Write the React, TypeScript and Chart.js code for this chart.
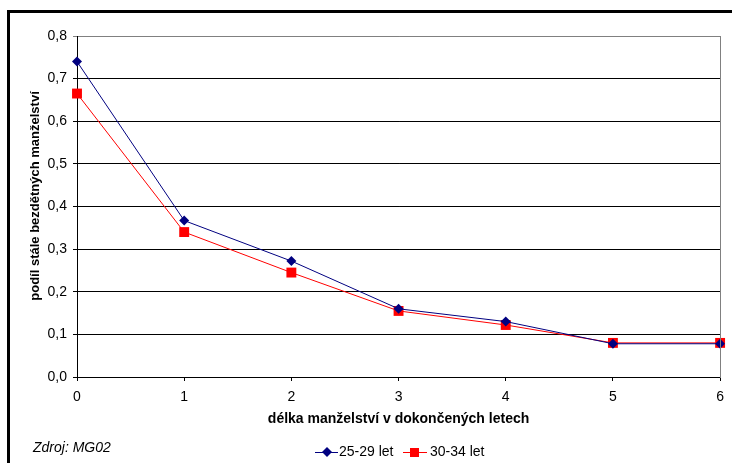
import React, { useEffect, useRef } from "react";
import { Chart, registerables } from "chart.js";

Chart.register(...registerables);

const categories = ["0", "1", "2", "3", "4", "5", "6"];
const series2529 = [0.74, 0.367, 0.272, 0.16, 0.13, 0.078, 0.078];
const series3034 = [0.665, 0.34, 0.245, 0.155, 0.122, 0.08, 0.08];
const seriesNames = ["25-29 let", "30-34 let"];
const yTitle = "podíl stále bezdětných manželství";
const xTitle = "délka manželství v dokončených letech";
const sourceNote = "Zdroj: MG02";

const FONT = "'Liberation Sans', Arial, sans-serif";
const BLUE = "#000080";
const RED = "#FF0000";

const decorPlugin = {
  id: "decor",
  afterDraw(chart: any) {
    const ctx = chart.ctx;
    const area = chart.chartArea;
    ctx.save();
    // right plot border (gray)
    ctx.strokeStyle = "#808080";
    ctx.lineWidth = 1;
    ctx.beginPath();
    const rx = Math.round(area.right) + 0.5;
    ctx.moveTo(rx, Math.round(area.top));
    ctx.lineTo(rx, Math.round(area.bottom) + 1);
    ctx.stroke();

    // outer black frame (cut off at right and bottom)
    ctx.fillStyle = "#000";
    ctx.fillRect(7, 10, 3, 470);
    ctx.fillRect(7, 10, 740, 3);

    // y axis title
    ctx.save();
    ctx.translate(35.5, 196);
    ctx.rotate(-Math.PI / 2);
    ctx.font = `bold 13px ${FONT}`;
    ctx.textAlign = "center";
    ctx.textBaseline = "middle";
    ctx.fillStyle = "#000";
    ctx.fillText(yTitle, 0, 0);
    ctx.restore();

    // source note
    ctx.fillStyle = "#000";
    ctx.font = `italic 14px ${FONT}`;
    ctx.textBaseline = "middle";
    ctx.textAlign = "left";
    ctx.fillText(sourceNote, 33, 448);

    // legend
    const ly = 452;
    ctx.font = `14px ${FONT}`;
    // series 1
    ctx.strokeStyle = BLUE;
    ctx.lineWidth = 1;
    ctx.beginPath();
    ctx.moveTo(315, ly + 0.5);
    ctx.lineTo(338, ly + 0.5);
    ctx.stroke();
    ctx.fillStyle = BLUE;
    ctx.beginPath();
    ctx.moveTo(327, ly - 5);
    ctx.lineTo(332, ly);
    ctx.lineTo(327, ly + 5);
    ctx.lineTo(322, ly);
    ctx.closePath();
    ctx.fill();
    ctx.fillStyle = "#000";
    ctx.fillText(seriesNames[0], 339, ly);
    // series 2
    ctx.strokeStyle = RED;
    ctx.beginPath();
    ctx.moveTo(403, ly + 0.5);
    ctx.lineTo(427, ly + 0.5);
    ctx.stroke();
    ctx.fillStyle = RED;
    ctx.fillRect(410, ly - 4, 9, 9);
    ctx.fillStyle = "#000";
    ctx.fillText(seriesNames[1], 430, ly);
    ctx.restore();
  },
};

export default function App() {
  const ref = useRef<HTMLCanvasElement>(null);
  useEffect(() => {
    if (!ref.current) return;
    const chart = new Chart(ref.current, {
      type: "line",
      data: {
        labels: categories,
        datasets: [
          {
            label: seriesNames[0],
            data: series2529,
            borderColor: BLUE,
            backgroundColor: BLUE,
            borderWidth: 1,
            pointStyle: "rectRot",
            pointRadius: 5,
            pointBorderWidth: 0,
            tension: 0,
          },
          {
            label: seriesNames[1],
            data: series3034,
            borderColor: RED,
            backgroundColor: RED,
            borderWidth: 1,
            pointStyle: "rect",
            pointRadius: 7,
            pointBorderWidth: 0,
            tension: 0,
          },
        ],
      },
      options: {
        animation: false,
        responsive: false,
        layout: { padding: { top: 36, right: 10, left: 0, bottom: 0 } },
        plugins: {
          legend: { display: false },
          tooltip: { enabled: false },
        },
        scales: {
          x: {
            offset: false,
            afterFit: (s: any) => {
              s.height = 86;
            },
            grid: {
              drawOnChartArea: false,
              drawTicks: true,
              tickLength: 4,
              color: "#000",
            },
            border: { display: true, color: "#000", width: 1 },
            ticks: {
              color: "#000",
              padding: 8,
              font: { family: FONT, size: 14 },
              maxRotation: 0,
            },
            title: {
              display: true,
              text: xTitle,
              color: "#000",
              font: { family: FONT, size: 14, weight: "bold" },
              padding: { top: 0, bottom: 35 },
            },
          },
          y: {
            min: 0,
            max: 0.8,
            afterFit: (s: any) => {
              s.width = 77;
            },
            grid: {
              drawOnChartArea: true,
              drawTicks: true,
              tickLength: 4,
              color: (c: any) =>
                c.tick && Math.abs(c.tick.value - 0.8) < 1e-6 ? "#808080" : "#000",
            },
            border: { display: true, color: "#000", width: 1 },
            ticks: {
              stepSize: 0.1,
              color: "#000",
              padding: 6,
              font: { family: FONT, size: 14 },
              callback: (v: any) => Number(v).toFixed(1).replace(".", ","),
            },
            title: { display: false },
          },
        },
      } as any,
      plugins: [decorPlugin],
    });
    return () => chart.destroy();
  }, []);
  return (
    <div style={{ position: "absolute", left: 0, top: 0, width: 732, height: 463, background: "#fff" }}>
      <canvas ref={ref} width={732} height={463} style={{ display: "block" }} />
    </div>
  );
}
